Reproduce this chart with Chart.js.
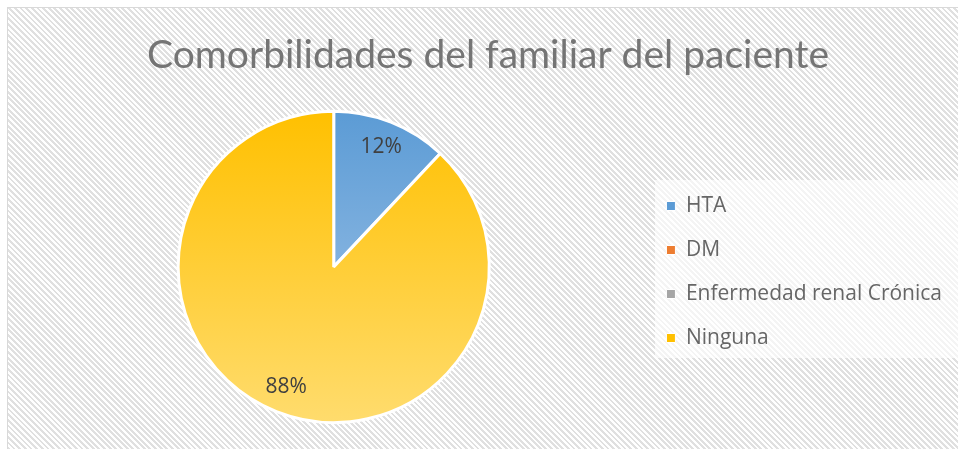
<!DOCTYPE html>
<html>
<head>
<meta charset="utf-8">
<script src="https://cdn.jsdelivr.net/npm/chart.js@4.4.1/dist/chart.umd.min.js"></script>
<style>
  html, body { margin: 0; padding: 0; background: #ffffff; }
  #marco {
    position: absolute; left: 7px; top: 7px; width: 960px; height: 450px;
    border: 1px solid #d9d9d9;
    background: repeating-linear-gradient(45deg, #ffffff 0px, #ffffff 2px, #e0e0e0 2px, #e0e0e0 4px);
  }
  #lienzo { position: absolute; left: 0; top: 0; }
</style>
</head>
<body>
<div id="marco"></div>
<div id="lienzo"><canvas id="graficaPastel" width="958" height="449"></canvas></div>
<script>
  // datos del grafico
  const categorias = ["HTA", "DM", "Enfermedad renal Crónica", "Ninguna"];
  const valores = [3, 0, 0, 22];
  const colores = ["#5b9bd5", "#ed7d31", "#a5a5a5", "#ffc000"];
  const coloresClaros = ["#a9c9ea", "#f4b183", "#c9c9c9", "#ffdc6e"];

  // relleno con degradado vertical, como en Excel
  function relleno(ctx) {
    const chart = ctx.chart;
    const area = chart.chartArea;
    const i = ctx.dataIndex;
    if (!area) return colores[i];
    const g = chart.ctx.createLinearGradient(0, area.top, 0, area.bottom);
    g.addColorStop(0, colores[i]);
    g.addColorStop(1, coloresClaros[i]);
    return g;
  }

  // caja blanca detras de la leyenda
  const fondoLeyenda = {
    id: 'fondoLeyenda',
    beforeDraw(chart) {
      const c = chart.ctx;
      c.save();
      c.fillStyle = 'rgba(255,255,255,0.65)';
      c.fillRect(655, 180, 303, 178);
      c.restore();
    }
  };

  // etiquetas de porcentaje dentro de cada porcion
  const etiquetas = {
    id: 'etiquetas',
    afterDatasetsDraw(chart) {
      const c = chart.ctx;
      const meta = chart.getDatasetMeta(0);
      const total = valores.reduce((a, b) => a + b, 0);
      c.save();
      c.font = '21px "Open Sans", sans-serif';
      c.fillStyle = '#404040';
      c.textAlign = 'center';
      c.textBaseline = 'middle';
      meta.data.forEach((arc, i) => {
        if (!valores[i]) return;
        const p = arc.getProps(['x', 'y', 'startAngle', 'endAngle', 'outerRadius'], true);
        const a = (p.startAngle + p.endAngle) / 2;
        const r = p.outerRadius * 0.83;
        c.fillText(Math.round(valores[i] / total * 100) + '%', p.x + Math.cos(a) * r, p.y + Math.sin(a) * r);
      });
      c.restore();
    }
  };

  const ctx = document.getElementById('graficaPastel').getContext('2d');
  new Chart(ctx, {
    type: 'pie',
    data: {
      labels: categorias,
      datasets: [{
        data: valores,
        backgroundColor: relleno,
        borderColor: '#ffffff',
        borderWidth: 3
      }]
    },
    options: {
      responsive: false,
      animation: false,
      layout: { padding: { left: 24, right: 6, top: 8, bottom: 25 } },
      plugins: {
        title: {
          display: true,
          text: 'Comorbilidades del familiar del paciente',
          color: '#757575',
          font: { family: 'Lato', size: 39, weight: '400' },
          padding: { top: 24, bottom: 31 }
        },
        legend: {
          position: 'right',
          title: { display: true, text: '', font: { size: 10 }, padding: { top: 100, bottom: 0 } },
          labels: {
            color: '#595959',
            font: { family: '"Open Sans"', size: 21 },
            boxWidth: 9,
            boxHeight: 9,
            padding: 23,
            generateLabels(chart) {
              return categorias.map((t, i) => ({
                text: t,
                fillStyle: colores[i],
                strokeStyle: '#ffffff',
                lineWidth: 1,
                hidden: false,
                index: i
              }));
            }
          }
        },
        tooltip: { enabled: false }
      }
    },
    plugins: [fondoLeyenda, etiquetas]
  });
</script>
</body>
</html>
